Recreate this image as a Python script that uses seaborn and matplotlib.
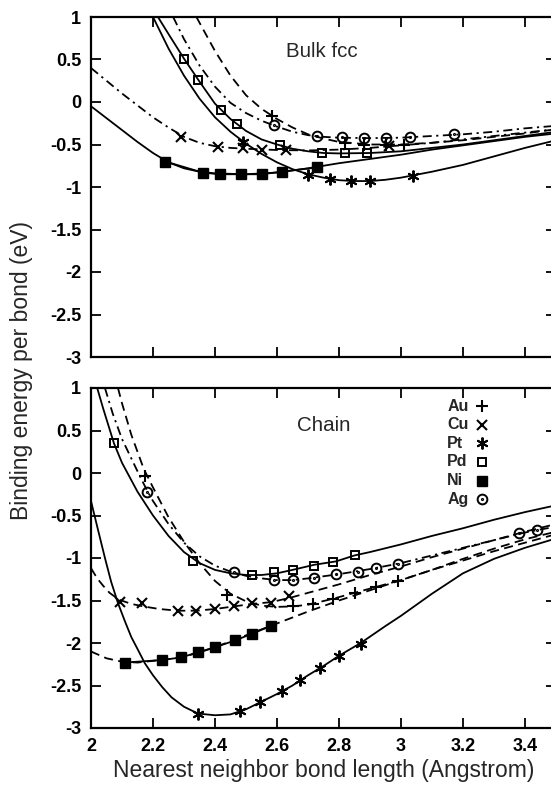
import numpy as np
import pandas as pd
import matplotlib
matplotlib.use("Agg")
import matplotlib.pyplot as plt
from matplotlib.path import Path
import seaborn as sns

sns.set_theme(style="ticks")
plt.rcParams["font.family"] = ["Liberation Sans", "DejaVu Sans"]

# ---------------------------------------------------------------
# Binding energy per bond (eV) vs. nearest neighbour distance (A)
# Each *_line list is the fitted curve, each *_pts list the
# computed points drawn with the element's symbol.
# ---------------------------------------------------------------
elements = ["Au", "Cu", "Pt", "Pd", "Ni", "Ag"]

x_ticks = [2.0, 2.2, 2.4, 2.6, 2.8, 3.0, 3.2, 3.4]
x_tick_labels = ["2", "2.2", "2.4", "2.6", "2.8", "3", "3.2", "3.4"]
y_ticks = [1.0, 0.5, 0.0, -0.5, -1.0, -1.5, -2.0, -2.5, -3.0]
y_tick_labels = ["1", "0.5", "0", "-0.5", "-1", "-1.5", "-2", "-2.5", "-3"]

# ---- bulk fcc ----
bulk_ni_line = [(2.0, -0.05), (2.05, -0.19), (2.1, -0.33), (2.15, -0.47), (2.2, -0.6),
                (2.25, -0.71), (2.3, -0.78), (2.35, -0.82), (2.4, -0.84), (2.5, -0.85),
                (2.6, -0.83), (2.7, -0.78), (2.8, -0.72), (2.9, -0.67), (3.0, -0.62),
                (3.1, -0.56), (3.2, -0.51), (3.3, -0.46), (3.4, -0.41), (3.5, -0.37)]
bulk_ni_pts = [(2.24, -0.70), (2.36, -0.83), (2.415, -0.85), (2.485, -0.85),
               (2.55, -0.85), (2.615, -0.82), (2.73, -0.77)]

bulk_cu_line = [(2.0, 0.4), (2.05, 0.25), (2.1, 0.1), (2.15, -0.04), (2.2, -0.18),
                (2.25, -0.3), (2.3, -0.41), (2.35, -0.48), (2.4, -0.52), (2.45, -0.54),
                (2.5, -0.55), (2.6, -0.565), (2.7, -0.57), (2.8, -0.56), (2.9, -0.54),
                (3.0, -0.51), (3.1, -0.48), (3.2, -0.44), (3.3, -0.4), (3.4, -0.36),
                (3.5, -0.32)]
bulk_cu_pts = [(2.29, -0.41), (2.41, -0.53), (2.49, -0.545), (2.55, -0.56),
               (2.63, -0.565), (2.96, -0.52)]

bulk_pt_line = [(2.2, 1.0), (2.25, 0.63), (2.3, 0.31), (2.35, 0.04), (2.4, -0.18),
                (2.45, -0.35), (2.5, -0.49), (2.55, -0.61), (2.6, -0.71), (2.65, -0.79),
                (2.7, -0.85), (2.75, -0.89), (2.8, -0.92), (2.85, -0.93), (2.9, -0.93),
                (2.95, -0.915), (3.0, -0.89), (3.1, -0.82), (3.2, -0.74), (3.3, -0.64),
                (3.4, -0.54), (3.5, -0.45)]
bulk_pt_pts = [(2.49, -0.47), (2.70, -0.86), (2.77, -0.90), (2.84, -0.93),
               (2.90, -0.93), (3.04, -0.87)]

bulk_pd_line = [(2.216, 1.0), (2.25, 0.8), (2.3, 0.51), (2.35, 0.24), (2.4, -0.02),
                (2.45, -0.2), (2.5, -0.34), (2.55, -0.44), (2.6, -0.5), (2.65, -0.55),
                (2.7, -0.58), (2.75, -0.6), (2.8, -0.605), (2.9, -0.6), (3.0, -0.58),
                (3.1, -0.54), (3.2, -0.5), (3.3, -0.45), (3.4, -0.4), (3.5, -0.35)]
bulk_pd_pts = [(2.30, 0.51), (2.345, 0.26), (2.42, -0.09), (2.47, -0.26),
               (2.61, -0.51), (2.745, -0.6), (2.82, -0.6), (2.89, -0.6)]

bulk_ag_line = [(2.265, 1.0), (2.3, 0.74), (2.35, 0.43), (2.4, 0.18), (2.45, -0.01),
                (2.5, -0.13), (2.55, -0.22), (2.6, -0.29), (2.65, -0.35), (2.7, -0.39),
                (2.75, -0.41), (2.8, -0.42), (2.9, -0.425), (3.0, -0.42), (3.1, -0.4),
                (3.2, -0.38), (3.3, -0.35), (3.4, -0.31), (3.5, -0.28)]
bulk_ag_pts = [(2.59, -0.27), (2.73, -0.40), (2.81, -0.41), (2.88, -0.42),
               (2.95, -0.42), (3.03, -0.41), (3.17, -0.38)]

bulk_au_line = [(2.34, 1.0), (2.4, 0.6), (2.45, 0.31), (2.5, 0.08), (2.55, -0.08),
                (2.6, -0.2), (2.65, -0.3), (2.7, -0.38), (2.75, -0.43), (2.8, -0.47),
                (2.9, -0.5), (3.0, -0.5), (3.1, -0.48), (3.2, -0.45), (3.3, -0.41),
                (3.4, -0.37), (3.5, -0.32)]
bulk_au_pts = [(2.585, -0.16), (2.82, -0.48), (2.88, -0.5), (2.95, -0.5), (3.01, -0.5)]

# ---- linear chain ----
chain_pt_line = [(2.0, -0.33), (2.02, -0.63), (2.045, -1.0), (2.065, -1.28), (2.087, -1.53),
                 (2.11, -1.75), (2.13, -1.93), (2.15, -2.07), (2.174, -2.24), (2.2, -2.38),
                 (2.23, -2.52), (2.26, -2.64), (2.3, -2.75), (2.345, -2.83), (2.4, -2.85),
                 (2.45, -2.84), (2.5, -2.78), (2.55, -2.69), (2.6, -2.6), (2.65, -2.5),
                 (2.7, -2.38), (2.75, -2.27), (2.8, -2.15), (2.87, -2.0), (2.95, -1.8),
                 (3.0, -1.68), (3.1, -1.42), (3.2, -1.18), (3.3, -1.01), (3.4, -0.88),
                 (3.5, -0.77)]
chain_pt_pts = [(2.345, -2.83), (2.48, -2.8), (2.545, -2.69), (2.615, -2.57),
                (2.675, -2.44), (2.74, -2.29), (2.80, -2.15), (2.87, -2.01)]

chain_cu_line = [(2.0, -1.12), (2.02, -1.24), (2.04, -1.33), (2.06, -1.41), (2.09, -1.49),
                 (2.13, -1.54), (2.17, -1.57), (2.22, -1.6), (2.28, -1.62), (2.34, -1.62),
                 (2.4, -1.6), (2.46, -1.57), (2.52, -1.54), (2.58, -1.52), (2.64, -1.47),
                 (2.7, -1.41), (2.8, -1.31), (2.9, -1.2), (3.0, -1.1), (3.1, -0.99),
                 (3.2, -0.89), (3.3, -0.79), (3.4, -0.69), (3.5, -0.6)]
chain_cu_pts = [(2.094, -1.52), (2.164, -1.53), (2.28, -1.62), (2.34, -1.62),
                (2.40, -1.6), (2.46, -1.57), (2.52, -1.53), (2.58, -1.53), (2.64, -1.45)]

chain_pd_line = [(2.02, 1.0), (2.04, 0.75), (2.074, 0.35), (2.1, 0.12), (2.15, -0.22),
                 (2.2, -0.5), (2.25, -0.74), (2.3, -0.93), (2.35, -1.06), (2.4, -1.14),
                 (2.45, -1.18), (2.5, -1.2), (2.55, -1.2), (2.6, -1.18), (2.65, -1.14),
                 (2.72, -1.08), (2.79, -1.04), (2.85, -0.97), (2.9, -0.93), (3.0, -0.84),
                 (3.1, -0.74), (3.2, -0.65), (3.3, -0.55), (3.4, -0.46), (3.5, -0.38)]
chain_pd_pts = [(2.074, 0.35), (2.33, -1.03), (2.52, -1.2), (2.59, -1.17),
                (2.65, -1.14), (2.72, -1.09), (2.78, -1.05), (2.85, -0.97)]

chain_ag_line = [(2.045, 1.0), (2.07, 0.7), (2.1, 0.4), (2.15, 0.02), (2.18, -0.2),
                 (2.2, -0.33), (2.25, -0.6), (2.3, -0.82), (2.35, -0.98), (2.4, -1.09),
                 (2.45, -1.16), (2.5, -1.21), (2.55, -1.24), (2.6, -1.26), (2.65, -1.26),
                 (2.7, -1.24), (2.8, -1.19), (2.9, -1.13), (3.0, -1.06), (3.1, -0.97),
                 (3.2, -0.88), (3.3, -0.79), (3.4, -0.7), (3.5, -0.63)]
chain_ag_pts = [(2.18, -0.22), (2.46, -1.17), (2.59, -1.26), (2.65, -1.26),
                (2.72, -1.23), (2.79, -1.19), (2.86, -1.16), (2.92, -1.12),
                (2.99, -1.07), (3.38, -0.71), (3.44, -0.67)]

chain_au_line = [(2.087, 1.0), (2.1, 0.82), (2.13, 0.45), (2.17, 0.05), (2.2, -0.17),
                 (2.25, -0.52), (2.3, -0.81), (2.35, -1.06), (2.4, -1.27), (2.45, -1.42),
                 (2.5, -1.51), (2.55, -1.56), (2.6, -1.575), (2.65, -1.57), (2.7, -1.55),
                 (2.78, -1.48), (2.85, -1.41), (2.92, -1.34), (3.0, -1.26), (3.1, -1.14),
                 (3.2, -1.01), (3.3, -0.89), (3.4, -0.78), (3.5, -0.69)]
chain_au_pts = [(2.174, -0.04), (2.44, -1.43), (2.65, -1.57), (2.716, -1.54),
                (2.78, -1.48), (2.85, -1.41), (2.92, -1.34), (2.99, -1.27)]

chain_ni_line = [(2.0, -2.1), (2.05, -2.18), (2.1, -2.22), (2.15, -2.23), (2.2, -2.21),
                 (2.25, -2.19), (2.3, -2.16), (2.35, -2.11), (2.4, -2.05), (2.45, -1.98),
                 (2.5, -1.91), (2.55, -1.84), (2.6, -1.77), (2.65, -1.7), (2.7, -1.63),
                 (2.8, -1.5), (2.9, -1.38), (3.0, -1.26), (3.1, -1.14), (3.2, -1.03),
                 (3.3, -0.92), (3.4, -0.82), (3.5, -0.72)]
chain_ni_pts = [(2.11, -2.23), (2.23, -2.2), (2.29, -2.17), (2.345, -2.11),
                (2.40, -2.05), (2.465, -1.97), (2.52, -1.89), (2.58, -1.8)]

# ---------------------------------------------------------------
SOLID = "-"
DASHED = (0, (5.0, 3.0))
DASHDOT = (0, (5.0, 2.5, 1.2, 2.5))

ag_symbol = Path.make_compound_path(Path.unit_circle(), Path.circle((0, 0), 0.12))

SYMBOLS = {
    "Au": dict(marker="+", ms=8.5, mew=1.5, mfc="black"),
    "Cu": dict(marker="x", ms=6.5, mew=1.5, mfc="black"),
    "Pt": dict(marker=(6, 2, 0), ms=8.5, mew=1.4, mfc="black"),
    "Pd": dict(marker="s", ms=6.0, mew=1.4, mfc="none"),
    "Ni": dict(marker="s", ms=7.0, mew=1.0, mfc="black"),
    "Ag": dict(marker=ag_symbol, ms=7.0, mew=1.4, mfc="none"),
}

bulk_curves = [
    ("Ni", bulk_ni_line, bulk_ni_pts, SOLID),
    ("Cu", bulk_cu_line, bulk_cu_pts, DASHDOT),
    ("Pt", bulk_pt_line, bulk_pt_pts, SOLID),
    ("Pd", bulk_pd_line, bulk_pd_pts, SOLID),
    ("Ag", bulk_ag_line, bulk_ag_pts, DASHDOT),
    ("Au", bulk_au_line, bulk_au_pts, DASHED),
]
chain_curves = [
    ("Pt", chain_pt_line, chain_pt_pts, SOLID),
    ("Cu", chain_cu_line, chain_cu_pts, DASHED),
    ("Pd", chain_pd_line, chain_pd_pts, SOLID),
    ("Ag", chain_ag_line, chain_ag_pts, DASHDOT),
    ("Au", chain_au_line, chain_au_pts, DASHED),
    ("Ni", chain_ni_line, chain_ni_pts, DASHED),
]


def draw_panel(ax, curves, connect_points=("Ni",)):
    for name, line, pts, ls in curves:
        df = pd.DataFrame(line, columns=["r", "e"])
        sns.lineplot(data=df, x="r", y="e", ax=ax, color="black", lw=1.3,
                     linestyle=ls, sort=False, estimator=None)
        pdf = pd.DataFrame(pts, columns=["r", "e"])
        if name in connect_points:
            sns.lineplot(data=pdf, x="r", y="e", ax=ax, color="black", lw=1.3,
                         sort=False, estimator=None)
        ax.plot(pdf["r"], pdf["e"], ls="none", mec="black", color="black",
                **SYMBOLS[name])


fig = plt.figure(figsize=(5.51, 7.93), dpi=100)
W, H = 551.0, 793.0
left, right = 91 / W, 556 / W
ax_top = fig.add_axes([left, 1 - 357 / H, right - left, 340 / H])
ax_bot = fig.add_axes([left, 1 - 728 / H, right - left, 340 / H])

draw_panel(ax_top, bulk_curves)
draw_panel(ax_bot, chain_curves)

for ax in (ax_top, ax_bot):
    ax.set_xlim(2.0, 3.5)
    ax.set_ylim(-3.0, 1.0)
    ax.set_xlabel("")
    ax.set_ylabel("")
    ax.set_yticks(y_ticks, y_tick_labels)
    ax.set_xticks(x_ticks, x_tick_labels)
    ax.tick_params(direction="in", length=7, width=1.3, top=True, right=True,
                   labelsize=13, pad=7, colors="black")
    for lab in ax.get_xticklabels() + ax.get_yticklabels():
        lab.set_fontweight("bold")
    for sp in ax.spines.values():
        sp.set_linewidth(1.6)
        sp.set_color("black")
        sp.set_visible(True)

ax_top.tick_params(labelbottom=False)

ax_top.text(2.745, 0.59, "Bulk fcc", ha="center", va="center", fontsize=14.8)
ax_bot.text(2.75, 0.56, "Chain", ha="center", va="center", fontsize=14.8)

# symbol key: names left-aligned, symbols in a column to their right
key_text_x, key_mark_x = 0.766, 0.841
key_top, key_step = 0.947, 0.0548
for i, name in enumerate(elements):
    ky = key_top - i * key_step
    ax_bot.text(key_text_x, ky, name, transform=ax_bot.transAxes, ha="left",
                va="center", fontsize=11.5, fontweight="bold")
    ax_bot.plot([key_mark_x], [ky], transform=ax_bot.transAxes, ls="none",
                mec="black", color="black", clip_on=False, **SYMBOLS[name])

fig.text(22 / W, 1 - 370 / H, "Binding energy per bond (eV)", rotation=90,
         ha="center", va="center", fontsize=16.5)
fig.text((91 + 556) / 2 / W, 1 - 771 / H, "Nearest neighbor bond length (Angstrom)",
         ha="center", va="center", fontsize=16.5)

fig.savefig("out.png", dpi=100)
